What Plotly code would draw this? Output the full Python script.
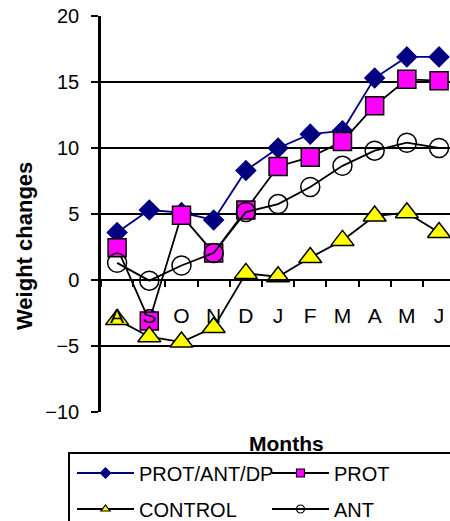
import plotly.graph_objects as go

# Monthly weight changes, August through June
months = ["Aug", "Sep", "Oct", "Nov", "Dec", "Jan", "Feb", "Mar", "Apr", "May", "Jun"]
month_letters = ["A", "S", "O", "N", "D", "J", "F", "M", "A", "M", "J"]

prot_ant_dp = [3.6, 5.3, 5.1, 4.55, 8.3, 10.0, 11.05, 11.3, 15.3, 16.9, 16.9]
prot = [2.45, -3.1, 4.9, 2.05, 5.3, 8.6, 9.3, 10.5, 13.2, 15.2, 15.1]
control = [-3.0, -4.3, -4.7, -3.6, 0.5, 0.25, 1.7, 3.0, 4.85, 5.1, 3.6]
ant = [1.3, -0.05, 1.1, 2.05, 5.15, 5.75, 7.05, 8.65, 9.8, 10.4, 10.0]

W, H = 450, 521
L, R, T, B = 101, 0, 16, 109
PW, PH = W - L - R, H - T - B
FONT = "Liberation Sans, Arial, sans-serif"


def px_x(px):
    return (px - L) / PW


def px_y(py):
    return (H - B - py) / PH


# legend slot for each series: (legend id, left px, row centre px)
series = [
    dict(name="PROT/ANT/DP", y=prot_ant_dp, symbol="diamond", size=15,
         fill="#000080", edge="#000080", line="#000080",
         legend=("legend", 72, 473)),
    dict(name="PROT", y=prot, symbol="square", size=18,
         fill="#FF00FF", edge="#000000", line="#000000",
         legend=("legend2", 267, 473)),
    dict(name="CONTROL", y=control, symbol="triangle-up", size=20,
         fill="#FFFF00", edge="#000000", line="#000000",
         legend=("legend3", 72, 509)),
    dict(name="ANT", y=ant, symbol="circle-open", size=19,
         fill="#000000", edge="#000000", line="#000000",
         legend=("legend4", 267, 509)),
]

fig = go.Figure()
for s in series:
    fig.add_trace(go.Scatter(
        x=months, y=s["y"], mode="lines+markers", name=s["name"],
        line=dict(color=s["line"], width=1.8),
        marker=dict(symbol=s["symbol"], size=s["size"], color=s["fill"],
                    line=dict(color=s["edge"], width=1.5)),
        showlegend=False, cliponaxis=False,
    ))
# smaller legend swatches
for s in series:
    fig.add_trace(go.Scatter(
        x=[None], y=[None], mode="lines+markers", name=s["name"],
        line=dict(color=s["line"], width=1.8),
        marker=dict(symbol=s["symbol"], size=8, color=s["fill"],
                    line=dict(color=s["edge"], width=1.2)),
        legend=s["legend"][0], showlegend=True,
    ))

legends = {}
for s in series:
    lid, lx, ly = s["legend"]
    legends[lid] = dict(
        x=px_x(lx), y=px_y(ly),
        orientation="h", xanchor="left", yanchor="middle",
        font=dict(family=FONT, size=20, color="#000000"),
        bgcolor="rgba(0,0,0,0)", borderwidth=0, itemwidth=57,
    )

fig.update_layout(
    width=W, height=H,
    margin=dict(l=L, r=R, t=T, b=B, autoexpand=False),
    paper_bgcolor="#FFFFFF", plot_bgcolor="#FFFFFF",
    font=dict(family=FONT, size=20, color="#000000"),
    xaxis=dict(
        type="category", categoryorder="array", categoryarray=months,
        range=[-0.5, 10.34],
        tickmode="array", tickvals=months, ticktext=month_letters,
        tickson="boundaries", ticks="outside", ticklen=6, tickwidth=1.5,
        tickcolor="#000000", ticklabelstandoff=17,
        tickfont=dict(family=FONT, size=21, color="#000000"),
        showline=True, linecolor="#000000", linewidth=2,
        showgrid=False, zeroline=False,
        anchor="free", position=px_y(280),
        fixedrange=True,
    ),
    yaxis=dict(
        range=[-10, 20], dtick=5, tick0=0,
        ticks="outside", ticklen=7, tickwidth=1.5, tickcolor="#000000",
        ticklabelstandoff=8,
        tickfont=dict(family=FONT, size=20, color="#000000"),
        showline=True, linecolor="#000000", linewidth=2.5,
        showgrid=True, gridcolor="#000000", gridwidth=2,
        zeroline=False, fixedrange=True,
    ),
    shapes=[dict(
        type="rect", xref="paper", yref="paper",
        x0=px_x(69), x1=px_x(470), y0=px_y(453), y1=px_y(540),
        line=dict(color="#000000", width=2), fillcolor="rgba(0,0,0,0)",
    )],
    annotations=[
        dict(text="<b>Weight changes</b>", xref="paper", yref="paper",
             x=px_x(24), y=px_y(246), textangle=-90, showarrow=False,
             xanchor="center", yanchor="middle",
             font=dict(family=FONT, size=22, color="#000000")),
        dict(text="<b>Months</b>", xref="paper", yref="paper",
             x=px_x(286), y=px_y(443), showarrow=False,
             xanchor="center", yanchor="middle",
             font=dict(family=FONT, size=21, color="#000000")),
    ],
    **legends,
)

fig.write_html("out.html", config=dict(displayModeBar=False))
